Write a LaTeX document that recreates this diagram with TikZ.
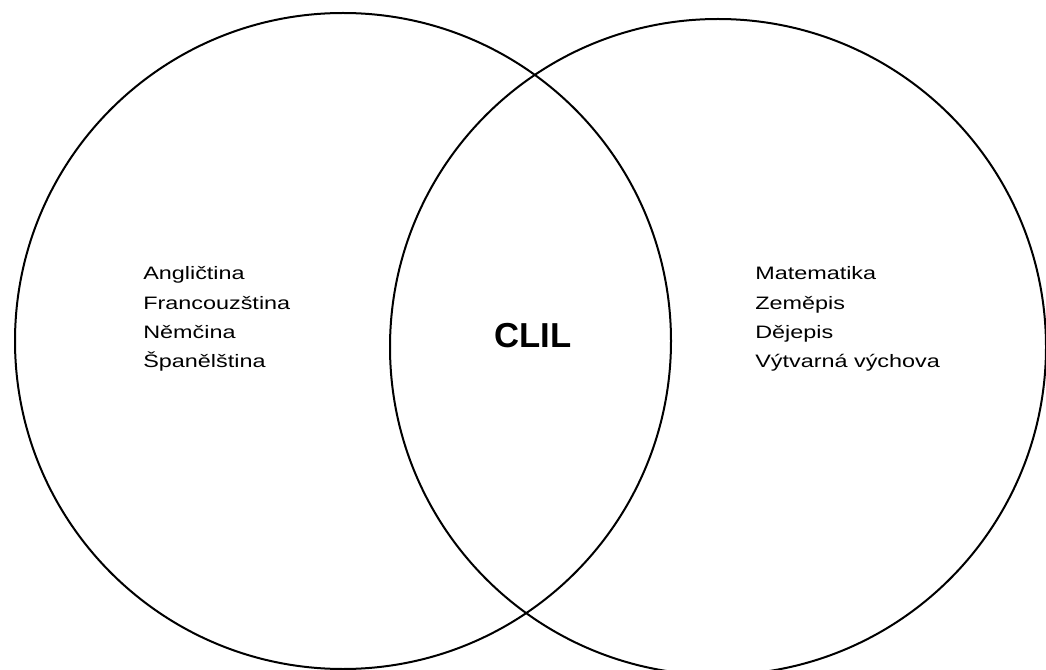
\documentclass[tikz,border=0pt]{standalone}
\usepackage{fontspec}
\setmainfont{Liberation Sans}
\newfontfamily\listfont[FakeStretch=1.3]{Liberation Sans}
\usepackage{tikz}
\usetikzlibrary{positioning}
\tikzset{
    % outline of the two sets
    setring/.style={line width=1.5pt, draw=black},
    % subject lists inside the circles
    subject/.style={font=\listfont\fontsize{13.5}{16}\selectfont, text=black, anchor=base west, inner sep=0pt},
    centrelabel/.style={font=\fontsize{26}{30}\selectfont\bfseries, text=black, inner sep=0pt}
}

\begin{document}
\begin{tikzpicture}[x=0.75pt, y=-0.75pt]

    % =========================================================================
    % Page frame (1046 x 670 px)
    % =========================================================================
    \useasboundingbox (0,0) rectangle (1046,670);

    % =========================================================================
    % The two overlapping sets
    % =========================================================================
    \draw[setring] (343,341) circle (328);
    \draw[setring] (718,347) circle (328);

    % =========================================================================
    % Left set: languages
    % =========================================================================
    \node[subject] (ang) at (143,280) {Angličtina};
    \node[subject] (fra) at (143,310) {Francouzština};
    \node[subject] (nem) at (143,339) {Němčina};
    \node[subject] (spa) at (143,368) {Španělština};

    % =========================================================================
    % Right set: subjects
    % =========================================================================
    \node[subject] (mat) at (755,280) {Matematika};
    \node[subject] (zem) at (755,310) {Zeměpis};
    \node[subject] (dej) at (755,339) {Dějepis};
    \node[subject] (vyt) at (755,368) {Výtvarná výchova};

    % Overlap label
    \node[centrelabel] (clil) at (533,335.5) {CLIL};
\end{tikzpicture}
\end{document}
